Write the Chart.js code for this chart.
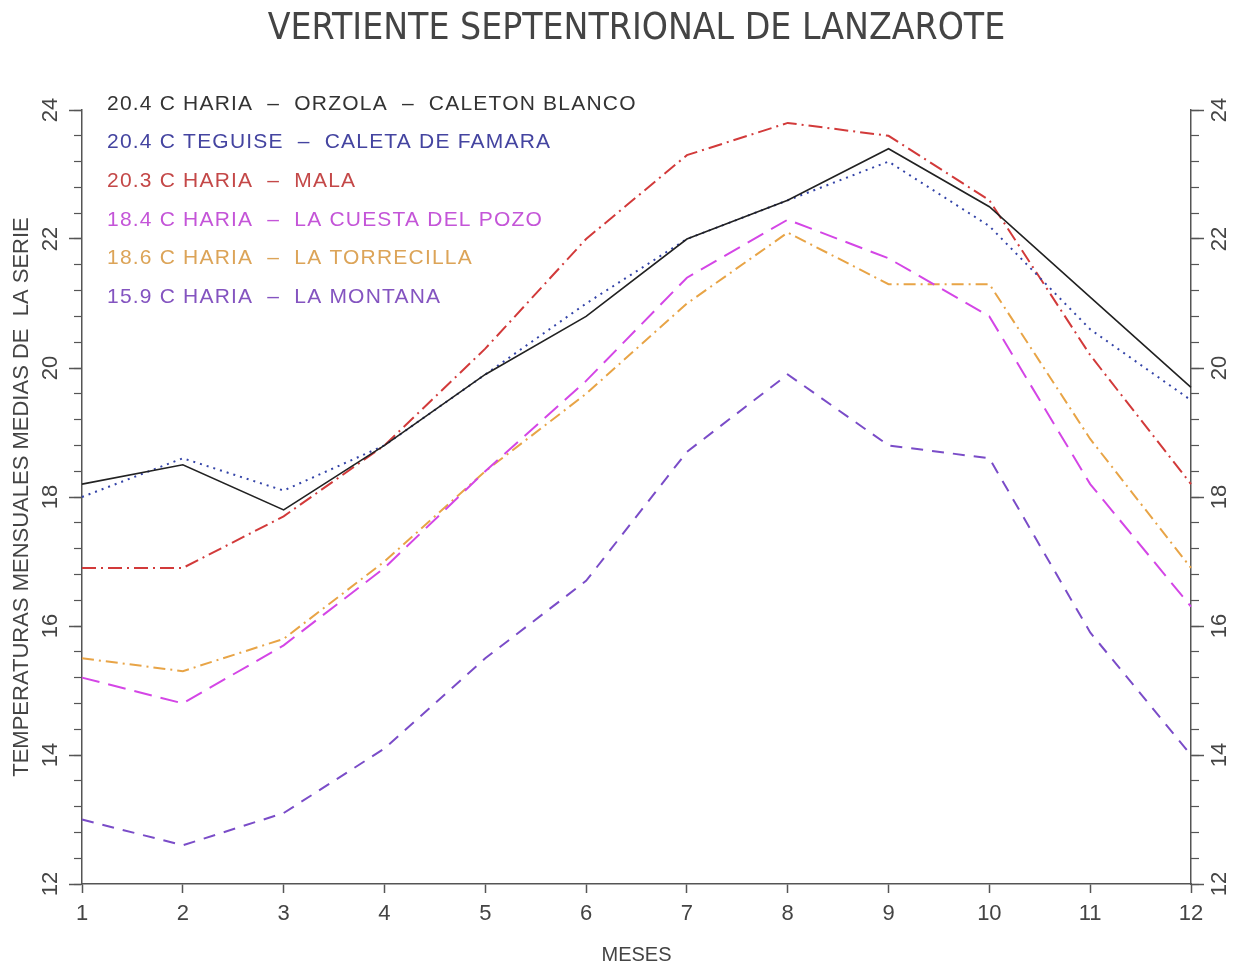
<!DOCTYPE html>
<html>
<head>
<meta charset="utf-8">
<title>Vertiente septentrional de Lanzarote</title>
<script src="https://cdn.jsdelivr.net/npm/chart.js@4.4.1/dist/chart.umd.min.js"></script>
<style>
  html, body { margin: 0; padding: 0; background: #fff; }
  canvas { display: block; }
</style>
</head>
<body>
<canvas id="tempChart" width="1237" height="965"></canvas>
<script>
// mean monthly temperatures (C) per station, months 1..12
const months = ['1', '2', '3', '4', '5', '6', '7', '8', '9', '10', '11', '12'];

const orzola     = [18.2, 18.5, 17.8, 18.8, 19.9, 20.8, 22.0, 22.6, 23.4, 22.5, 21.1, 19.7];
const famara     = [18.0, 18.6, 18.1, 18.8, 19.9, 21.0, 22.0, 22.6, 23.2, 22.2, 20.6, 19.5];
const mala       = [16.9, 16.9, 17.7, 18.8, 20.3, 22.0, 23.3, 23.8, 23.6, 22.6, 20.2, 18.2];
const cuesta     = [15.2, 14.8, 15.7, 16.9, 18.4, 19.8, 21.4, 22.3, 21.7, 20.8, 18.2, 16.3];
const torrecilla = [15.5, 15.3, 15.8, 17.0, 18.4, 19.6, 21.0, 22.1, 21.3, 21.3, 18.9, 16.9];
const montana    = [13.0, 12.6, 13.1, 14.1, 15.5, 16.7, 18.7, 19.9, 18.8, 18.6, 15.9, 14.0];

const stations = [
  '20.4 C HARIA  –  ORZOLA  –  CALETON BLANCO',
  '20.4 C TEGUISE  –  CALETA DE FAMARA',
  '20.3 C HARIA  –  MALA',
  '18.4 C HARIA  –  LA CUESTA DEL POZO',
  '18.6 C HARIA  –  LA TORRECILLA',
  '15.9 C HARIA  –  LA MONTANA'
];

const yMin = 12;
const yMax = 24;

const sansFont = "'Liberation Sans', 'DejaVu Sans', sans-serif";
const narrowFont = "'Liberation Sans Narrow', 'DejaVu Sans Condensed', 'Liberation Sans', sans-serif";
const axisColor = '#555';
const textColor = '#444';

Chart.defaults.font.family = sansFont;

// station names written in the upper left corner, one line per dataset
const stationLegend = {
  id: 'stationLegend',
  afterDraw(chart, args, opts) {
    const ctx = chart.ctx;
    const area = chart.chartArea;
    ctx.save();
    ctx.font = opts.size + 'px ' + sansFont;
    ctx.letterSpacing = opts.tracking;
    ctx.textBaseline = 'middle';
    ctx.textAlign = 'left';
    chart.data.datasets.forEach((ds, i) => {
      ctx.fillStyle = ds.textColor;
      ctx.fillText(ds.label, area.left + opts.dx, area.top + opts.dy + i * opts.spacing);
    });
    ctx.restore();
  }
};

function line(label, data, color, textCol, dash, width) {
  return {
    label: label,
    data: data,
    borderColor: color,
    backgroundColor: color,
    textColor: textCol,
    borderDash: dash,
    borderWidth: width,
    borderCapStyle: 'butt',
    pointRadius: 0,
    tension: 0,
    fill: false,
    yAxisID: 'y'
  };
}

// labelled axis with the long ticks every 2 degrees
function majorAxis(position, pad, size) {
  return {
    type: 'linear',
    position: position,
    min: yMin,
    max: yMax,
    weight: 1,
    border: { display: true, color: axisColor, width: 1.5 },
    grid: { drawOnChartArea: false, drawTicks: true, tickLength: 13, tickColor: axisColor, tickWidth: 1.5 },
    ticks: {
      stepSize: 2,
      minRotation: 90,
      maxRotation: 90,
      crossAlign: 'center',
      padding: pad,
      color: textColor,
      font: { size: 22 }
    },
    afterFit(scale) { scale.width = size; }
  };
}

// short unlabelled ticks every 0.4 degrees
function minorAxis(position) {
  return {
    type: 'linear',
    position: position,
    min: yMin,
    max: yMax,
    weight: 0,
    border: { display: false },
    grid: { drawOnChartArea: false, drawTicks: true, tickLength: 8, tickColor: axisColor, tickWidth: 1.2 },
    ticks: { stepSize: 0.4, maxTicksLimit: 100, display: false },
    afterFit(scale) { scale.width = 0; }
  };
}

const yLeft = majorAxis('left', 6, 82);
yLeft.title = {
  display: true,
  text: 'TEMPERATURAS MENSUALES MEDIAS DE  LA SERIE',
  color: textColor,
  font: { size: 22, lineHeight: 1 },
  padding: { top: 11, bottom: 0 }
};

new Chart(document.getElementById('tempChart'), {
  type: 'line',
  data: {
    labels: months,
    datasets: [
      line(stations[0], orzola, '#222222', '#333333', [], 1.6),
      line(stations[1], famara, '#3444a8', '#4444a0', [2, 5], 2),
      line(stations[2], mala, '#d23a3a', '#c44848', [14, 5, 2, 5], 2),
      line(stations[3], cuesta, '#d446e6', '#c455d8', [18, 9], 2),
      line(stations[4], torrecilla, '#e8a446', '#dca458', [12, 5, 2, 5], 2),
      line(stations[5], montana, '#7a4cc8', '#8454c0', [12, 9], 2)
    ]
  },
  options: {
    responsive: false,
    devicePixelRatio: 1,
    animation: false,
    layout: { padding: 0 },
    plugins: {
      legend: { display: false },
      tooltip: { enabled: false },
      title: {
        display: true,
        fullSize: false,
        text: 'VERTIENTE SEPTENTRIONAL DE LANZAROTE',
        color: textColor,
        font: { family: narrowFont, size: 37, weight: 'normal', lineHeight: 1.2 },
        padding: { top: 7, bottom: 58.6 }
      },
      stationLegend: { size: 21, tracking: '1.2px', dx: 25, dy: -6, spacing: 38.6 }
    },
    scales: {
      x: {
        type: 'category',
        offset: false,
        border: { display: true, color: axisColor, width: 1.5 },
        grid: { drawOnChartArea: false, drawTicks: true, tickLength: 9, tickColor: axisColor, tickWidth: 1.5, offset: false },
        ticks: { color: textColor, font: { size: 22 }, padding: 8, maxRotation: 0, autoSkip: false },
        title: {
          display: true,
          text: 'MESES',
          color: textColor,
          font: { size: 20, lineHeight: 1 },
          padding: { top: 0, bottom: 0 }
        },
        afterFit(scale) { scale.height = 81; }
      },
      y: yLeft,
      yLeftMinor: minorAxis('left'),
      yRight: majorAxis('right', 4, 46),
      yRightMinor: minorAxis('right')
    }
  },
  plugins: [stationLegend]
});
</script>
</body>
</html>
